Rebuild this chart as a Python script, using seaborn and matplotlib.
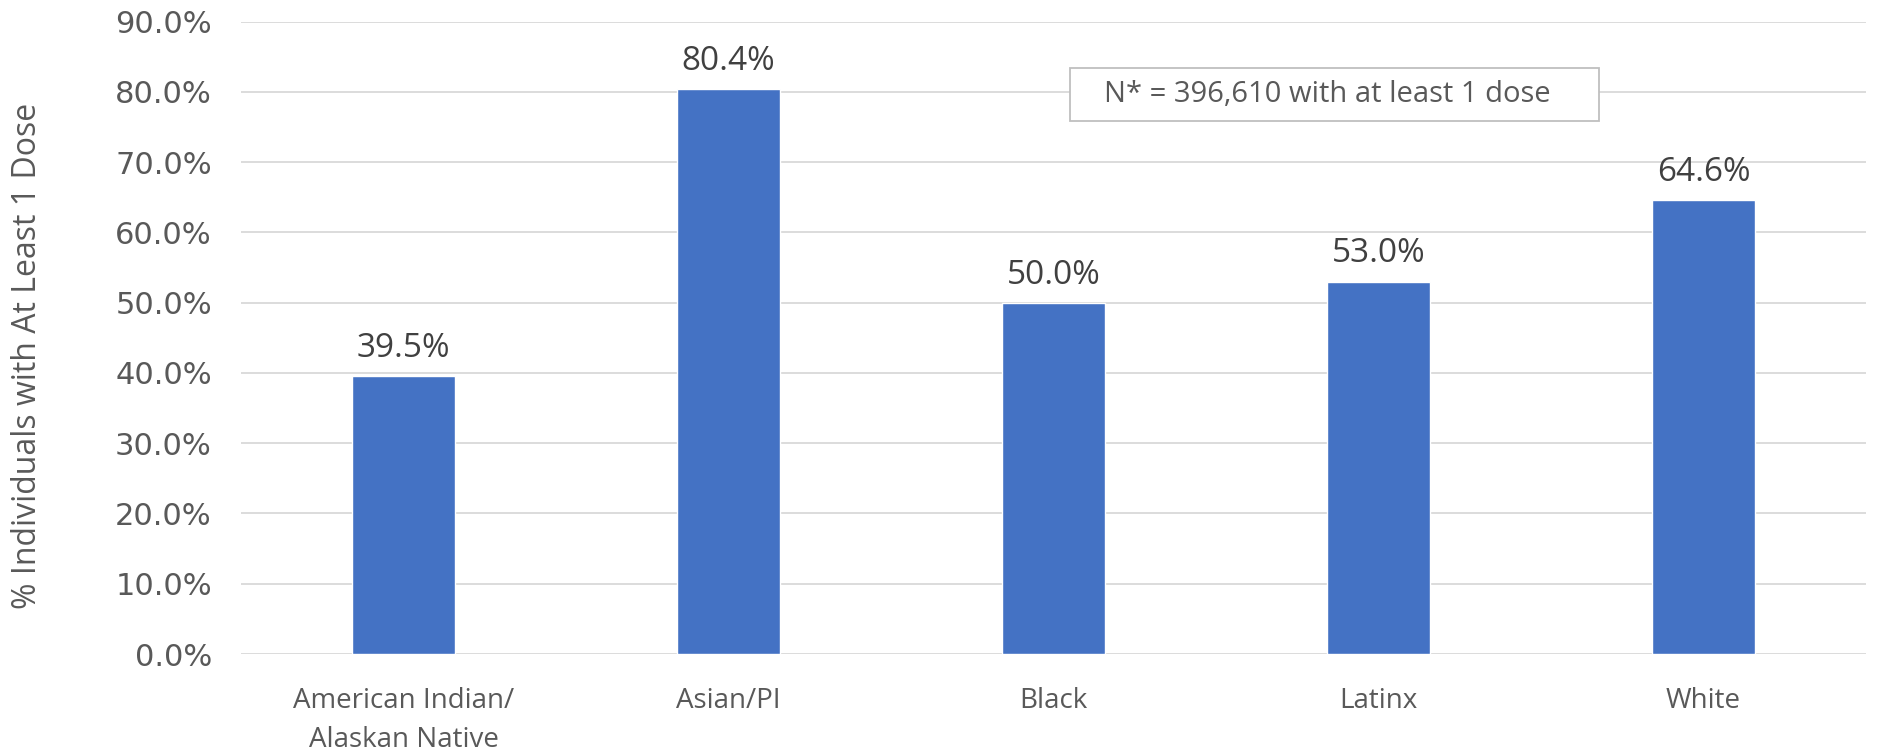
import pandas as pd
import seaborn as sns
import matplotlib.pyplot as plt
from matplotlib.patches import Rectangle
from matplotlib.ticker import PercentFormatter

groups = ["American Indian/\nAlaskan Native", "Asian/PI", "Black", "Latinx", "White"]
pct_one_dose = [0.395, 0.804, 0.500, 0.530, 0.646]
y_ticks = [0.0, 0.1, 0.2, 0.3, 0.4, 0.5, 0.6, 0.7, 0.8, 0.9]
note = "N* = 396,610 with at least 1 dose"

df = pd.DataFrame({"group": groups, "pct": pct_one_dose})

sns.set_style("white")
plt.rcParams["font.family"] = ["Open Sans", "DejaVu Sans"]

fig = plt.figure(figsize=(18.79, 7.56), dpi=100)
ax = fig.add_axes([241 / 1879, 102 / 756, 1625 / 1879, 632.4 / 756])

sns.barplot(data=df, x="group", y="pct", color="#4472C4", saturation=1,
            width=0.314, ax=ax, zorder=3)

ax.set_xlim(-0.5, 4.5)
ax.set_ylim(0, 0.9)
ax.set_yticks(y_ticks)
ax.yaxis.set_major_formatter(PercentFormatter(1, decimals=1))
ax.grid(axis="y", color="#D9D9D9", linewidth=1.3, zorder=0)
sns.despine(ax=ax, left=True, bottom=True)

ax.tick_params(axis="y", length=0, pad=21, labelcolor="#595959")
ax.tick_params(axis="x", length=0, pad=24, labelcolor="#595959")
for lab in ax.get_yticklabels():
    lab.set_family("DejaVu Sans")
    lab.set_fontsize(22)
for lab in ax.get_xticklabels():
    lab.set_fontsize(20)
    lab.set_linespacing(1.5)

ax.set_xlabel("")
ax.set_ylabel("% Individuals with At Least 1 Dose", fontsize=23, color="#595959")
ax.yaxis.set_label_coords(-0.121, 0.4715)

for i, v in enumerate(pct_one_dose):
    ax.annotate(f"{v * 100:.1f}%", (i, v), xytext=(0, 8), textcoords="offset points",
                ha="center", va="bottom", fontsize=24, color="#404040")

# note box drawn as a plain rectangle in axes coordinates
ax.add_patch(Rectangle((0.510, 0.8428), 0.3257, 0.0838, transform=ax.transAxes,
                       facecolor="white", edgecolor="#BFBFBF", lw=1.3, zorder=4))
ax.text(0.6686, 0.8847, note, transform=ax.transAxes, ha="center", va="center",
        fontsize=21, color="#595959", zorder=5)

fig.savefig("out.png", dpi=100)
